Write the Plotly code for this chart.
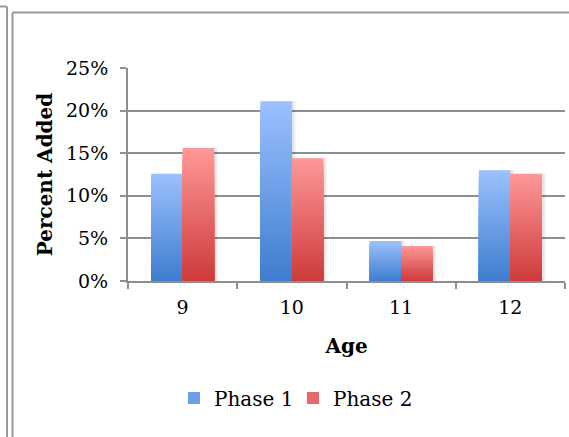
import plotly.graph_objects as go

# ---- data -------------------------------------------------------------
ages = ["9", "10", "11", "12"]
phase1 = [0.126, 0.211, 0.047, 0.130]
phase2 = [0.156, 0.144, 0.041, 0.126]
series_names = ["Phase 1", "Phase 2"]
y_tick_vals = [0, 0.05, 0.10, 0.15, 0.20, 0.25]
y_tick_text = ["0%", "5%", "10%", "15%", "20%", "25%"]

# ---- styling ----------------------------------------------------------
W, H = 569, 437
MARGIN = dict(l=128, r=4, t=68, b=156)
PW = W - MARGIN["l"] - MARGIN["r"]
PH = H - MARGIN["t"] - MARGIN["b"]
FONT = "DejaVu Serif"
AXIS_GREY = "#8e8e8e"
BAR_W = 0.288           # bar width, in category units
STEPS = 40              # gradient bands per bar
# (bottom colour, top colour) for each series
GRADIENTS = [((62, 125, 206), (155, 193, 255)),
             ((206, 58, 58), (255, 152, 152))]


def mix(c0, c1, t):
    return "rgb({},{},{})".format(*(round(a + (b - a) * t) for a, b in zip(c0, c1)))


def px_x(px):
    return (px - MARGIN["l"]) / PW


def px_y(py):
    return (H - MARGIN["b"] - py) / PH


fig = go.Figure()
cat_px = PW / len(ages)

for si, (name, vals) in enumerate(zip(series_names, [phase1, phase2])):
    offset = -BAR_W if si == 0 else 0.0
    # soft drop shadow to the right of each bar
    for dx, alpha in [(4, 0.045), (2.5, 0.06)]:
        fig.add_trace(go.Bar(
            x=ages, y=vals, offset=offset + dx / cat_px, width=BAR_W,
            marker=dict(color=f"rgba(0,0,0,{alpha})", line_width=0),
            showlegend=False, hoverinfo="skip"))
    # vertical gradient: tallest (lightest) band first, darker shorter ones on top
    bottom, top = GRADIENTS[si]
    for j in range(STEPS):
        frac = (STEPS - j) / STEPS
        t = (STEPS - j - 0.5) / STEPS
        fig.add_trace(go.Bar(
            x=ages, y=[v * frac for v in vals], offset=offset, width=BAR_W,
            marker=dict(color=mix(bottom, top, t), line_width=0),
            name=name, legendgroup=name,
            showlegend=(j == STEPS // 2),
            hoverinfo="skip"))

# chart frames along the top and left edges
FRAME = dict(color="#9a9a9a", width=2)
shapes = [
    dict(type="line", xref="paper", yref="paper",
         x0=px_x(0), x1=px_x(7), y0=px_y(6.5), y1=px_y(6.5), line=FRAME),
    dict(type="line", xref="paper", yref="paper",
         x0=px_x(7), x1=px_x(7), y0=px_y(6.5), y1=px_y(H + 2), line=FRAME),
    dict(type="line", xref="paper", yref="paper",
         x0=px_x(12.5), x1=px_x(W + 2), y0=px_y(12.5), y1=px_y(12.5), line=FRAME),
    dict(type="line", xref="paper", yref="paper",
         x0=px_x(12.5), x1=px_x(12.5), y0=px_y(12.5), y1=px_y(H + 2), line=FRAME),
]

fig.update_layout(
    width=W, height=H,
    margin=MARGIN,
    paper_bgcolor="white", plot_bgcolor="white",
    barmode="overlay",
    font=dict(family=FONT, size=19, color="black"),
    shapes=shapes,
    showlegend=True,
    legend=dict(orientation="h", x=px_x(174), xanchor="left",
                y=px_y(398), yanchor="middle",
                font=dict(family=FONT, size=20, color="black"),
                itemwidth=30, traceorder="normal",
                entrywidth=74, entrywidthmode="pixels"),
    xaxis=dict(
        type="category", categoryorder="array", categoryarray=ages,
        range=[-0.5, len(ages) - 0.5],
        showline=True, linecolor=AXIS_GREY, linewidth=2,
        ticks="outside", tickson="boundaries", ticklen=6,
        tickcolor=AXIS_GREY, tickwidth=2,
        showgrid=False, zeroline=False,
        tickfont=dict(family=FONT, size=19, color="black"),
        ticklabelstandoff=8,
        title=dict(text="Age", standoff=22,
                   font=dict(family=FONT, size=20, color="black", weight="bold")),
    ),
    yaxis=dict(
        range=[0, 0.25], tickvals=y_tick_vals, ticktext=y_tick_text,
        showline=True, linecolor=AXIS_GREY, linewidth=2,
        ticks="outside", ticklen=6, tickcolor=AXIS_GREY, tickwidth=2,
        showgrid=True, gridcolor=AXIS_GREY, gridwidth=2,
        zeroline=False,
        tickfont=dict(family=FONT, size=19, color="black"),
        ticklabelstandoff=8,
        title=dict(text="Percent Added", standoff=8,
                   font=dict(family=FONT, size=20, color="black", weight="bold")),
    ),
)

fig.write_html("out.html")
